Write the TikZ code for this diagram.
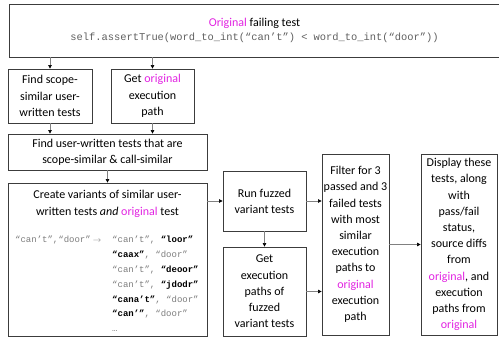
\documentclass[tikz,border=0pt]{standalone}
\usepackage{fontspec}
\setmainfont{Carlito}
\setmonofont{Liberation Mono}
\definecolor{origpink}{RGB}{225, 35, 225}
\definecolor{codegray}{RGB}{95, 95, 95}
\definecolor{seedgray}{RGB}{125, 125, 125}
\definecolor{boxgray}{RGB}{60, 60, 60}
\usetikzlibrary{arrows.meta, positioning}

\newcommand{\orig}[1]{\textcolor{origpink}{#1}}
\newcommand{\hit}[1]{\textcolor{black}{\textbf{#1}}}

\tikzset{
  stage/.style={draw=boxgray, line width=0.8pt, align=center, inner sep=0pt,
                font=\fontsize{12}{16.2}\selectfont},
  flow/.style={draw=gray, line width=0.6pt,
               -{Triangle[length=3.5pt, width=3.5pt, color=black]}},
  code/.style={font=\fontsize{9}{11}\ttfamily, text=seedgray,
               anchor=base west, inner sep=0pt}
}

\begin{document}
\begin{tikzpicture}[x=1pt, y=-1pt]
  \useasboundingbox (0,0) rectangle (499,339);

  % Failing test on top
  \node[stage, minimum width=491pt, minimum height=53pt,
        font=\fontsize{12}{14}\selectfont] (failing) at (254.5,30.5)
    {\orig{Original} failing test\\
     {\ttfamily\fontsize{10.4}{14}\selectfont\color{codegray}%
      self.assertTrue(word\_to\_int(“can’t”) < word\_to\_int(“door”))}};

  % First two steps
  \node[stage, minimum width=84pt, minimum height=54pt] (scope) at (50,96)
    {Find scope-\\similar user-\\written tests};
  \node[stage, minimum width=83pt, minimum height=54pt] (getorig) at (152.5,96)
    {Get \orig{original}\\execution\\path};

  % Call-similar tests
  \node[stage, minimum width=199pt, minimum height=36pt] (callsim) at (107.5,152)
    {Find user-written tests that are\\scope-similar \& call-similar};

  % Variants box with examples
  \node[stage, minimum width=199pt, minimum height=153pt] (variants) at (107.5,259.5) {};
  \node[align=center, inner sep=0pt, font=\fontsize{12}{17}\selectfont] (varhead) at (107.5,203.5)
    {Create variants of similar user-\\written tests \textit{and} \orig{original} test};
  \node[code] (seed) at (15,243) {“can’t”,“door”};
  \node[code, anchor=base, text=gray] (maps) at (97,243) {\fontsize{8}{8}\selectfont$\rightarrow$};
  \node[code] (v1) at (112,243) {“can’t”, \hit{“loor”}};
  \node[code] (v2) at (112,258) {\hit{“caax”}, “door”};
  \node[code] (v3) at (112,272.7) {“can’t”, \hit{“deoor”}};
  \node[code] (v4) at (112,287.4) {“can’t”, \hit{“jdodr”}};
  \node[code] (v5) at (112,302.1) {\hit{“cana’t”}, “door”};
  \node[code] (v6) at (112,316.8) {\hit{“can’”}, “door”};
  \node[code] (v7) at (112,332) {…};

  % Fuzzing steps
  \node[stage, minimum width=83pt, minimum height=60pt] (run) at (264.5,201)
    {Run fuzzed\\variant tests};
  \node[stage, minimum width=83pt, minimum height=89pt] (paths) at (264.5,291.5)
    {Get\\execution\\paths of\\fuzzed\\variant tests};

  % Filter and display
  \node[stage, minimum width=67pt, minimum height=181pt] (filter) at (355.5,244.5)
    {Filter for 3\\passed and 3\\failed tests\\with most\\similar\\execution\\paths to\\\orig{original}\\execution\\path};
  \node[stage, minimum width=76pt, minimum height=181pt] (display) at (459,244.5)
    {Display these\\tests, along\\with\\pass/fail\\status,\\source diffs\\from\\\orig{original}, and\\execution\\paths from\\\orig{original}};

  % Connectors
  \draw[flow] (failing.south -| scope) -- (scope.north);
  \draw[flow] (failing.south -| getorig) -- (getorig.north);
  \draw[flow] (scope.south) -- (scope.south |- callsim.north);
  \draw[flow] (getorig.south) -- (getorig.south |- callsim.north);
  \draw[flow] (callsim.south) -- (variants.north);
  \draw[flow] (variants.east |- run) -- (run.west);
  \draw[flow] (run.south) -- (paths.north);
  \draw[flow] (run.east) -- (run.east -| filter.west);
  \draw[flow] (paths.east) -- (paths.east -| filter.west);
  \draw[flow] (filter.east) -- (display.west);
\end{tikzpicture}
\end{document}
